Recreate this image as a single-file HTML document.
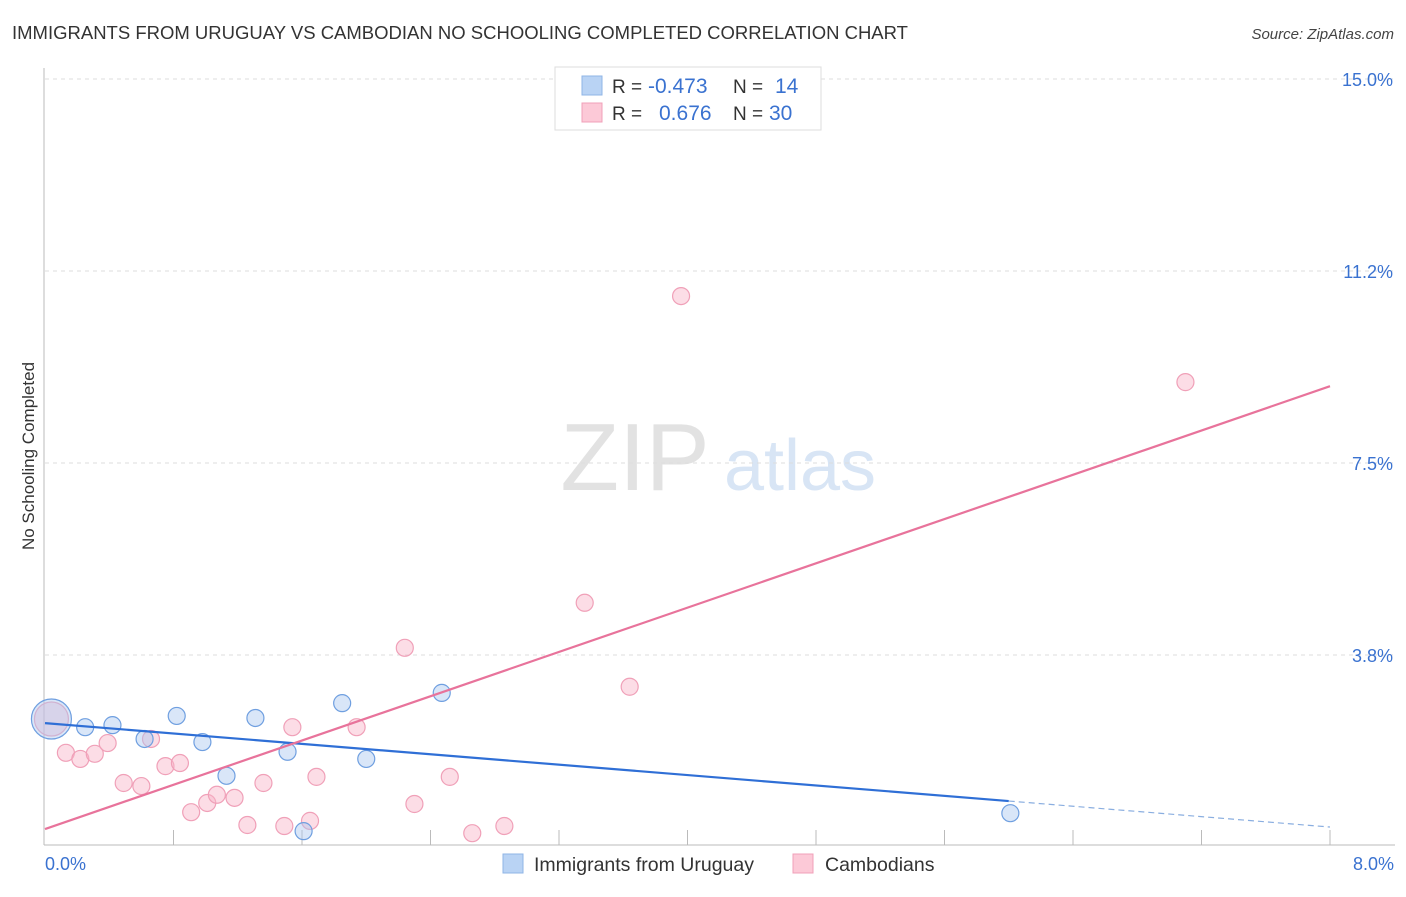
<!DOCTYPE html>
<html><head><meta charset="utf-8"><style>
body{margin:0;background:#fff;font-family:"Liberation Sans",sans-serif;}
svg text{font-family:"Liberation Sans",sans-serif;}
</style></head><body>
<svg id="chart" width="1406" height="892" viewBox="0 0 1406 892" xmlns="http://www.w3.org/2000/svg">
<text x="12" y="39" font-size="18.5" fill="#333">IMMIGRANTS FROM URUGUAY VS CAMBODIAN NO SCHOOLING COMPLETED CORRELATION CHART</text>
<text x="1394" y="39" font-size="15" fill="#444" text-anchor="end" font-style="italic">Source: ZipAtlas.com</text>
<g>
<text x="635" y="490" font-size="96" fill="#e2e2e2" font-family="Liberation Serif" text-anchor="middle">ZIP</text>
<text x="800" y="490" font-size="72" fill="#d8e5f5" text-anchor="middle">atlas</text>
</g>
<g id="grid"></g>
<g id="axes"></g>
<g id="marks"></g>
<text transform="translate(34,456) rotate(-90)" font-size="17" fill="#333" text-anchor="middle">No Schooling Completed</text>
<g>
<rect x="555" y="67" width="266" height="63" fill="#fff" stroke="#ddd"/>
<rect x="582" y="76" width="20" height="19" fill="#b9d3f4" stroke="#8fb4e6"/>
<rect x="582" y="103" width="20" height="19" fill="#fcc9d7" stroke="#f0a0b8"/>
<text x="612" y="93" font-size="19" fill="#333">R = </text>
<text x="648" y="93" font-size="21" fill="#3a72d0">-0.473</text>
<text x="733" y="93" font-size="19" fill="#333">N = </text>
<text x="775" y="93" font-size="21" fill="#3a72d0">14</text>
<text x="612" y="120" font-size="19" fill="#333">R = </text>
<text x="659" y="120" font-size="21" fill="#3a72d0">0.676</text>
<text x="733" y="120" font-size="19" fill="#333">N = </text>
<text x="769" y="120" font-size="21" fill="#3a72d0">30</text>
</g>
<g>
<rect x="503" y="854" width="20" height="19" fill="#b9d3f4" stroke="#8fb4e6"/>
<text x="534" y="871" font-size="19.5" fill="#333">Immigrants from Uruguay</text>
<rect x="793" y="854" width="20" height="19" fill="#fcc9d7" stroke="#f0a0b8"/>
<text x="825" y="871" font-size="19.5" fill="#333">Cambodians</text>
</g>
</svg>
<script>
const yTicks=[3.75,7.5,11.25,15];
const yTickLabels=["3.8%","7.5%","11.2%","15.0%"];
const xTickLabels=["0.0%","8.0%"];
const blueX=[0.04,0.25,0.42,0.62,0.82,0.98,1.13,1.31,1.51,1.61,1.85,2.00,2.47,6.01];
const blueY=[2.50,2.34,2.38,2.11,2.56,2.05,1.39,2.52,1.86,0.31,2.81,1.72,3.01,0.66];
const pinkX=[0.04,0.13,0.22,0.31,0.39,0.49,0.60,0.66,0.75,0.84,0.91,1.01,1.07,1.18,1.26,1.36,1.49,1.54,1.65,1.69,1.94,2.24,2.30,2.52,2.66,2.86,3.36,3.64,3.96,7.10];
const pinkY=[2.50,1.84,1.72,1.82,2.03,1.25,1.19,2.11,1.58,1.64,0.68,0.86,1.02,0.96,0.43,1.25,0.41,2.34,0.51,1.37,2.34,3.89,0.84,1.37,0.27,0.41,4.77,3.13,10.76,9.08];
const blueTrend=[2.42,0.39];
const pinkTrend=[0.35,9.00];
const blueSolidEnd=6.0;
const NS="http://www.w3.org/2000/svg";
const X=v=>45+v*1285/8, Y=v=>847-v*51.2;
function mk(t,a,p){const e=document.createElementNS(NS,t);for(const k in a)e.setAttribute(k,a[k]);p.appendChild(e);return e;}
const grid=document.getElementById('grid'),axes=document.getElementById('axes'),marks=document.getElementById('marks');
yTicks.forEach((t,i)=>{
 const l=mk('line',{x1:45,x2:1395,y1:Y(t),y2:Y(t),stroke:'#ddd','stroke-dasharray':'4,4'},grid);
 
 
 const tx=mk('text',{x:1393,y:Y(t)+7,'font-size':18,fill:'#3a72d0','text-anchor':'end'},axes);
 tx.textContent=yTickLabels[i];
 
 
});
const topGrid=mk('line',{x1:45,x2:1395,y1:79,y2:79,stroke:'#ddd','stroke-dasharray':'4,4'},grid);


const ya=mk('line',{x1:44,x2:44,y1:68,y2:845,stroke:'#bbb'},axes);


const xa=mk('line',{x1:44,x2:1395,y1:845,y2:845,stroke:'#bbb'},axes);


for(let i=1;i<=10;i++){const tk=mk('line',{x1:X(i*0.8),x2:X(i*0.8),y1:830,y2:845,stroke:'#bbb'},axes);
 
 }
[[0,'start',45],[8,'end',1394]].forEach((d,i)=>{const t=mk('text',{x:d[2],y:870,'font-size':18,fill:'#3a72d0','text-anchor':d[1]},axes);t.textContent=xTickLabels[i];
 
 });
function dot(x,y,r,fill,stroke,name){const c=mk('circle',{cx:X(x),cy:Y(y),r:r,fill:fill,stroke:stroke,'stroke-width':1.2},marks);
 
 }
pinkX.forEach((x,i)=>dot(x,pinkY[i],i==0?17:8.5,'rgba(248,180,200,0.45)','#f0a0b8','cambodian-point'));
blueX.forEach((x,i)=>dot(x,blueY[i],i==0?20:8.5,'rgba(170,200,240,0.45)','#6f9fe0','uruguay-point'));
const ty=(tr,x)=>tr[0]+(tr[1]-tr[0])*x/8;
const bl=mk('line',{x1:X(0),y1:Y(ty(blueTrend,0)),x2:X(blueSolidEnd),y2:Y(ty(blueTrend,blueSolidEnd)),stroke:'#2f6fd6','stroke-width':2.2},marks);


const bd=mk('line',{x1:X(blueSolidEnd),y1:Y(ty(blueTrend,blueSolidEnd)),x2:X(8),y2:Y(ty(blueTrend,8)),stroke:'#8aaee0','stroke-width':1.2,'stroke-dasharray':'6,4'},marks);


const pl=mk('line',{x1:X(0),y1:Y(ty(pinkTrend,0)),x2:X(8),y2:Y(ty(pinkTrend,8)),stroke:'#e8739b','stroke-width':2.2},marks);


</script>
</body></html>
